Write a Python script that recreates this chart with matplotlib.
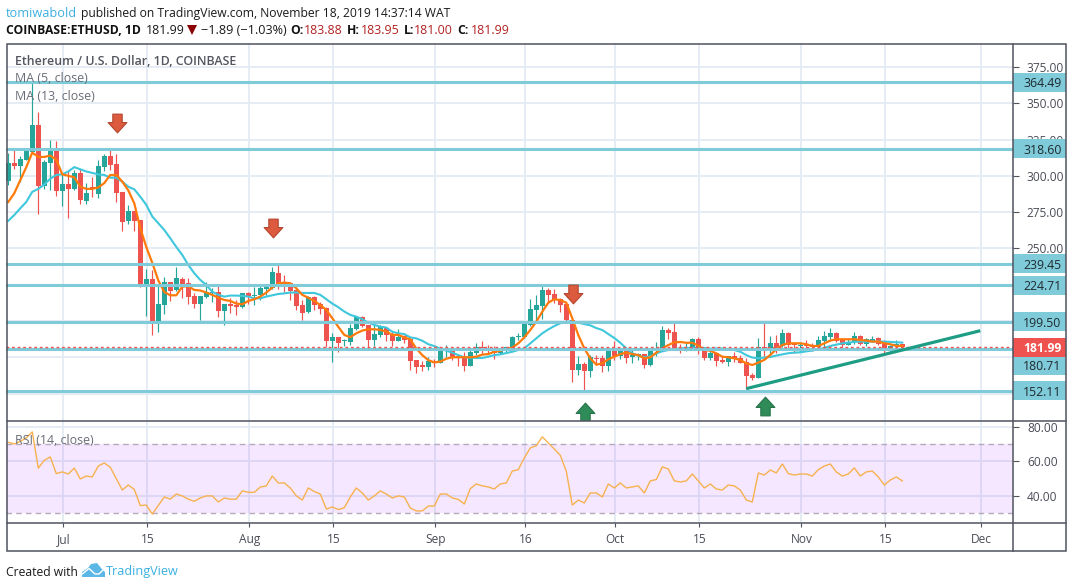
import matplotlib
matplotlib.use("Agg")
import matplotlib.pyplot as plt
from matplotlib.path import Path
from matplotlib.patches import Rectangle, Polygon

# --- candles, one per day starting Jun 22 2019 ---
opens = [296.4,308.6,306.8,311,316.6,335,293,309,317,289.5,
294.4,291,301.7,282.7,292,287.5,306,313.7,308,289,
269,275.8,269.6,225.5,229,199,211,226.9,221.3,229,
226,217,211.7,216.3,219,220,206.9,211.7,211,209.6,
219.3,217.5,217.7,222,222.7,233,226.6,226,221.3,211,
206,216.5,211.7,209,186.2,189,186,185.5,194.5,202.7,
197.2,186.9,190,195.1,191,186.2,189.6,187.3,173.1,169.7,
168.3,172.2,171,179.5,179.3,175.9,174.7,169,177.9,182.3,
181.4,180,177.9,180.7,181.4,188.7,189,197.2,207.5,210.3,
221.3,218.6,215,211.7,201,166.2,170.3,165.5,174.5,174.5,
169,181.4,175.9,181.4,175.2,175.9,177.2,169.7,180,180.7,
193.8,192.4,181.4,179.3,181.4,187.6,180.7,174.5,177.9,173.1,
171.7,175.9,174.5,172,162.8,160.8,181.9,180,184.9,182.8,
191.8,184.9,182.8,184.2,183.5,181.9,186.2,189,191.8,187.6,
183.5,185.6,189.7,184.2,186.2,188.3,185.6,179.4,182.6,183.88]
highs = [315.5,318.2,313.7,319,365,343.7,311,324.7,324,302,
303,304,304.5,295,299,311,315,319,315,289,
279.7,275.8,269.6,236,235,224,230.6,227,237,230,
229.6,219,217.5,226.9,222.7,224.8,211.7,216,214.5,219.5,
220,223.6,225.5,225.5,237,240,231.7,226,223.6,214.5,
217,217,213,209.9,191.5,189,187.4,198,203.4,203.4,
197.2,197.2,197.2,195.1,193,194.2,190.3,188,173.1,172.6,
175,173.6,181.1,183.4,180.4,177.2,178.6,181.1,184.8,186.2,
183.4,182.7,181.4,182,189.6,191.5,199.5,215,217.9,224.8,
222.5,222,215.5,211.7,201,175.9,172,176.5,176.5,176.5,
181.4,186.2,181.4,181.4,180,177.7,177.2,180.7,185.5,196.5,
195.1,198.6,184.1,185.5,188.3,188.9,180.7,180,178.6,175.9,
175.9,178.6,176.3,174.3,164,188.1,200,189.7,190.4,194.5,
192.5,185.6,185.6,186.9,184.6,189.7,193.1,195.2,192.5,188.3,
187.6,192.5,190.4,188.1,189.7,188.8,186.9,183.5,186.9,183.95]
lows = [293.7,305,296,311,316,274,291,290,286,279,
271,290,280.6,280.6,285.6,284.5,303,304,281.7,262,
267,262,223.7,203.7,190,192.7,204.8,214,220.9,215.6,
211.7,209,200.7,215.6,213.3,203,197.5,205.7,204,209,
211.5,211,214.5,218,222,222,220,214.5,207.6,200.7,
205.7,207.6,204.8,182.3,171.8,178.9,182.8,183.5,193.8,195.6,
180.7,182.5,189,186.2,182.7,186,184.6,166.2,164.2,165.3,
166.2,168,171,175,173,169,165.5,169,176.5,177.2,
177.2,173.8,177.2,177.9,181.4,186.9,188,196.7,200.2,201.3,
212.4,212.4,206.4,198.4,158.2,162.8,152.4,161.6,169.7,165,
165.8,173.1,174,170.8,171.3,173,167.6,169,175.9,180.7,
187.6,180.7,177.9,179.3,180.7,177.2,173.1,173.1,169,170.8,
169,172,171,153.2,159.4,160.8,174.8,177.3,178,182.3,
180.5,177.8,178.5,180.5,179.1,180.5,180.5,186.9,185.6,181.4,
183.3,184,183.5,182.8,185.6,183.5,177.3,178.7,181.2,181]
closes = [308.6,306.8,311.4,317,335,293,309.3,317,289.8,294.4,
291,301.7,283,288,291,306.8,313.7,307.5,288.4,268,
275.8,269,225.5,229,199,211.7,227,220.4,229.6,225.5,
216.8,211.7,217,220,220,206.9,211.7,210.3,209.6,219.3,
217,218,222.7,223.4,233.7,225.5,225.2,220.6,210.3,205.5,
216.5,211,208.3,186.2,189,184.9,186.7,195.2,203,196.6,
186.9,191,195.6,190.3,186.2,189,187,172.4,168.3,168.3,
172.2,170.8,179.3,180,174.5,174.5,169,178.6,182,180.9,
179.3,177.9,181.4,182,189,189.2,197.9,208.2,211,221.3,
217.9,214.4,211,200.6,166.2,170.3,165.5,175.4,173.8,169,
181.4,175.9,181.4,174.5,176.6,177.2,169.7,180.7,181.4,193.8,
191.7,180.7,179.3,181.4,187.6,180,174.5,177.9,172.4,171.7,
175.9,174,171,162,160.8,181.9,180,184.9,182.1,191.8,
183.5,183.5,183.5,182.8,181.9,186.9,189.7,191.8,186.2,183.5,
185.6,189.7,184.2,187.6,187.6,184.2,179.4,182.6,184,181.99]

# moving averages
ma5 = [282,288,297,306,316,313,313,314,311,301,
300,299,292.5,291,291,292,295,300.6,300.6,296,
290,281,264,251,240,228,220,217.7,217.7,223.7,
224,221.4,221,219.6,218,216,214.5,213.8,212,211.5,
213.8,215,216.8,219.6,223,226,226.4,226,222.5,218,
216,213.8,211,207.6,201.9,196,190.4,188.8,191.5,193.4,
194.3,194.3,193.8,192.7,190.4,190.4,188.7,187.3,181,176.5,
173,171.5,172,174,175,175,175,175,175.4,176.8,
177.2,178.8,179.5,180.7,181.6,184.6,188.7,193.8,199.5,206.4,
212.6,215,214.4,212.6,201.8,190.3,181.1,174.3,169.9,170.8,
173.6,175.4,177.2,178.2,177.2,176.5,174.3,175,178.2,181.1,
183.4,185.3,185.5,185,185,183,180,179.5,177.7,175.4,
175,174.3,173.1,170.8,169.7,171.3,173.2,176.6,180.5,183.5,
184.6,184.6,184.6,184,182.8,182.8,184.6,186.5,187.4,187.4,
187.4,187.4,186.9,186.5,185.8,185.8,184.6,184,182.8,182.8]
ma13 = [269,273,277.6,282,289,291,294,298,300.6,301,
303,306,304.5,303,302,301,300.6,298.7,298.7,296,
292.5,290.7,285.6,280,272,267.3,262.7,257,251,245.5,
238.6,232.9,228.3,224.8,220.2,218,216.8,217.5,217.5,217.3,
216.8,215.6,215.6,216.8,217.7,218.6,219,219.6,219.6,219.3,
219.3,219.3,218,215,212,209.5,206.5,204.2,203,201.2,
198.9,197.3,196.1,195.5,192.6,191.5,191,188.7,188,186.4,
184,182.7,180.9,179.5,178.2,176.5,175,174.7,174.5,174.5,
175.4,176.5,177,177.9,178.8,180,181.1,184.6,188,191.5,
194.2,196.5,198.4,199.5,199.7,198.8,197.9,197,195.1,193.8,
191,188.3,185,181.1,177.7,176.1,175,175.6,177.7,179.1,
180,180.7,181.1,181.4,181.4,181.6,181.4,180.9,181.1,181.1,
180.4,180,178.8,176.5,174.8,174.3,174.8,175.2,176.2,177,
177.8,178.2,178.4,179.1,179.6,180.5,181.4,182.8,183.7,184.6,
185.1,185.6,185.8,185.8,185.8,185.8,185.8,185.6,185.3,185.1]
rsi = [71,70,71.5,73.5,77,56,60.5,62.5,52.8,53.8,
52.6,56,49.7,51.4,50.9,57.2,59,56.5,49.9,43.3,
46.2,43.7,34.3,34.6,29.4,34.3,39.3,38,41,39.9,
38,36.8,38.7,39.9,39.9,36.4,38.7,38,38,42.8,
42,42,45,45.7,51.4,47.4,47.4,44.5,39.9,37.5,
44.5,42.4,41,32.3,33.5,32,33,39.3,44.5,41.6,
37.5,39.9,42.8,41,38.7,39.9,39.3,32.9,31.2,31.2,
34,34,41,41,38.7,37.9,35.2,44.1,46.8,45.7,
45.1,43.9,46.8,47.4,54.3,55.1,61.9,67.7,69,74.1,
70.6,67.1,63.4,54.2,34.6,37.5,35.8,41.6,41.6,39.3,
46.8,44.5,47.4,44.5,45.1,45.7,41.6,48.6,49.4,56.7,
55.5,48.6,48,48.6,52.6,48.6,44.5,46.8,43.9,43.3,
46.2,45.7,43.3,37.5,36.4,53.2,52,54.9,53.2,58.4,
52.8,52,52.6,52.6,51.4,55.1,57.2,58.4,53.8,51.4,
52.6,56.1,51.4,53.8,54.3,50.9,46.2,49.1,50.9,48.6]

days = list(range(len(closes)))

level_values = [364.49, 318.60, 239.45, 224.71, 199.50, 180.71, 152.11]
level_labels = ["364.49", "318.60", "239.45", "224.71", "199.50", "180.71", "152.11"]
level_tag_prices = [364.49, 318.60, 239.45, 224.71, 199.50, 169.7, 152.11]
last_price = 181.99

trend_days = [123, 162]
trend_prices = [153.4, 193.3]

down_arrow_days = [18.2, 44.2, 94.2]
down_arrow_prices = [336.7, 264, 218.6]
up_arrow_days = [96.2, 126.2]
up_arrow_prices = [137.3, 141.1]

month_days = [9, 23, 40, 54, 71, 86, 101, 115, 132, 146, 162]
month_labels = ["Jul", "15", "Aug", "15", "Sep", "16", "Oct", "15", "Nov", "15", "Dec"]
price_ticks = [150, 175, 200, 225, 250, 275, 300, 325, 350, 375]
price_tick_labels = ["", "", "", "", "250.00", "275.00", "300.00", "325.00", "350.00", "375.00"]
rsi_ticks = [40, 60, 80]

# --- colours and fonts ---
plt.rcParams["font.family"] = ["Open Sans", "DejaVu Sans"]
UP = "#26a69a"
DOWN = "#ef5350"
LEVEL = "#80cbd9"
GRID = "#e3ebf2"
FRAME = "#50535e"
TEXT = "#4a4c57"

W, H = 1073, 588
fig = plt.figure(figsize=(W / 100, H / 100), dpi=100)


def box(x0, y0, x1, y1):
    return [x0 / W, 1 - y1 / H, (x1 - x0) / W, (y1 - y0) / H]


xlim = (-0.38, 167.45)
ax = fig.add_axes(box(6, 43, 1013, 421))
ax_rsi = fig.add_axes(box(6, 421, 1013, 523))

grid_days = [d + 0.17 for d in month_days]
for a in (ax, ax_rsi):
    for s in a.spines.values():
        s.set_visible(False)
    a.set_xticks(grid_days)
    a.yaxis.tick_right()
    a.grid(True, color=GRID, lw=1.3, zorder=0)
    a.set_axisbelow(True)
    a.tick_params(axis="y", length=4, width=0.8, color=FRAME, labelcolor=TEXT,
                  labelsize=8.6, pad=6)
    a.tick_params(axis="x", length=3, width=0.8, color=FRAME, labelcolor=TEXT,
                  labelsize=8.6, pad=4)

ax.set_yticks(price_ticks)
ax.set_yticklabels(price_tick_labels)
ax.tick_params(axis="x", length=0, labelbottom=False)
ax_rsi.set_yticks(rsi_ticks)
ax_rsi.set_yticklabels([f"{p:.2f}" for p in rsi_ticks])
ax_rsi.set_xticklabels(month_labels)

ax.set_xlim(xlim)
ax.set_ylim(131.1, 391.5)
ax_rsi.set_xlim(xlim)
ax_rsi.set_ylim(24.2, 83.3)

# --- candles ---
colors = [UP if c >= o else DOWN for o, c in zip(opens, closes)]
ax.vlines(days, lows, highs, colors=colors, lw=0.85, zorder=2)
ax.bar(days, [max(abs(c - o), 0.7) for o, c in zip(opens, closes)],
       bottom=[min(o, c) for o, c in zip(opens, closes)],
       width=0.85, color=colors, lw=0, zorder=3)

ax.plot(days, ma13, color="#3fc7dc", lw=1.5, zorder=4)
ax.plot(days, ma5, color="#ff7a0a", lw=1.6, zorder=5)

for lv in level_values:
    ax.axhline(lv, color=LEVEL, lw=2.2, zorder=6)
ax.axhline(last_price, color=DOWN, lw=1.0, ls=(0, (2, 2)), zorder=7)
ax.plot(trend_days, trend_prices, color="#1f9d84", lw=2.3, zorder=8, solid_capstyle="butt")

down_arrow = Path([(-0.25, 0.5), (0.25, 0.5), (0.25, 0.05), (0.5, 0.05), (0, -0.5),
                   (-0.5, 0.05), (-0.25, 0.05), (-0.25, 0.5)], closed=True)
up_arrow = Path([(-0.25, -0.5), (0.25, -0.5), (0.25, -0.05), (0.5, -0.05), (0, 0.5),
                 (-0.5, -0.05), (-0.25, -0.05), (-0.25, -0.5)], closed=True)
ax.plot(down_arrow_days, down_arrow_prices, ls="", marker=down_arrow, ms=13.5,
        mfc="#dc5a3e", mec="#b5462f", mew=0.8, zorder=9)
ax.plot(up_arrow_days, up_arrow_prices, ls="", marker=up_arrow, ms=13.5,
        mfc="#2f8c58", mec="#26734a", mew=0.8, zorder=9)

# --- RSI pane ---
ax_rsi.axhspan(30, 70, color="#9915ff", alpha=0.1, lw=0, zorder=1)
ax_rsi.axhline(70, color="#b5a9bb", lw=1, ls=(0, (4, 3)), zorder=2)
ax_rsi.axhline(30, color="#b5a9bb", lw=1, ls=(0, (4, 3)), zorder=2)
ax_rsi.plot(days, rsi, color="#f7b24f", lw=1.0, zorder=3)

# --- price scale tags ---
ax_tags = fig.add_axes(box(1013, 43, 1066, 421), zorder=5)
ax_tags.set_xlim(0, 1)
ax_tags.set_ylim(131.1, 391.5)
ax_tags.axis("off")
tag_h = 13.2
for label, p in zip(level_labels, level_tag_prices):
    ax_tags.add_patch(Rectangle((0, p - tag_h / 2), 1, tag_h, color=LEVEL, lw=0))
    ax_tags.text(0.19, p, label, color="#1f2a30", fontsize=8.8, va="center_baseline")
ax_tags.add_patch(Rectangle((0, last_price - tag_h / 2), 1, tag_h, color=DOWN, lw=0, zorder=3))
ax_tags.text(0.19, last_price, f"{last_price:.2f}", color="white", fontsize=8.8,
             fontweight="bold", va="center_baseline", zorder=4)

# --- everything else in pixel space ---
ax_top = fig.add_axes([0, 0, 1, 1], zorder=10)
ax_top.set_xlim(0, W)
ax_top.set_ylim(H, 0)
ax_top.axis("off")
ax_top.patch.set_alpha(0)

ax_top.add_patch(Rectangle((6.5, 43.5), 1059.5, 507.5, fill=False, ec=FRAME, lw=1.1))
ax_top.plot([6.5, 1066], [421, 421], color=FRAME, lw=1.1)
ax_top.plot([6.5, 1066], [523, 523], color=FRAME, lw=1.1)
ax_top.plot([1013, 1013], [43.5, 551], color=FRAME, lw=1.1)

ax_top.text(6, 13.5, "tomiwabold", color="#3bb0e0", fontsize=9.2, va="center")
ax_top.text(81, 13.5, "published on TradingView.com, November 18, 2019 14:37:14 WAT",
            color="#1a1a1a", fontsize=8.75, va="center")

y2 = 30.5
ax_top.text(6, y2, "COINBASE:ETHUSD, 1D", color="#111111", fontsize=8.7, fontweight="bold", va="center")
ax_top.text(146, y2, "181.99", color="#1a1a1a", fontsize=8.9, va="center")
ax_top.add_patch(Polygon([(187, 25), (197, 25), (192, 35)], color="#8b0000", lw=0))
ax_top.text(201, y2, "\u22121.89 (\u22121.03%)", color="#1a1a1a", fontsize=9.1, va="center")
for x, lab, xv, val in [(290, "O:", 304, "183.88"), (347, "H:", 361, "183.95"),
                        (404, "L:", 414, "181.00"), (457, "C:", 471, "181.99")]:
    ax_top.text(x, y2, lab, color="#111111", fontsize=8.7, fontweight="bold", va="center")
    ax_top.text(xv, y2, val, color="#b22222", fontsize=8.9, va="center")

ax_top.text(15, 61.5, "Ethereum / U.S. Dollar, 1D, COINBASE", color="#53555f", fontsize=8.9,
            fontweight="semibold", va="center")
ax_top.text(15, 78.5, "MA (5, close)", color="#6a6d78", fontsize=8.9, va="center")
ax_top.text(15, 96.5, "MA (13, close)", color="#6a6d78", fontsize=8.9, va="center")
ax_top.text(15, 440.5, "RSI (14, close)", color="#6a6d78", fontsize=8.9, va="center")

# logo
ax_top.text(6, 572, "Created with", color="#1a1a1a", fontsize=8.7, va="center")
ax_top.add_patch(Polygon([(82, 576), (82, 572), (88, 568), (91, 564), (97, 563), (101, 568),
                          (105, 572), (105, 577), (82, 577)], color="#5bb8e6", lw=0))
ax_top.plot([81, 89, 95, 99, 106], [575, 568.5, 574, 574, 567], color="white", lw=1.0)
ax_top.text(106, 572, "TradingView", color="#3bb0e0", fontsize=9.1, va="center")

fig.savefig("out.png", dpi=100)
